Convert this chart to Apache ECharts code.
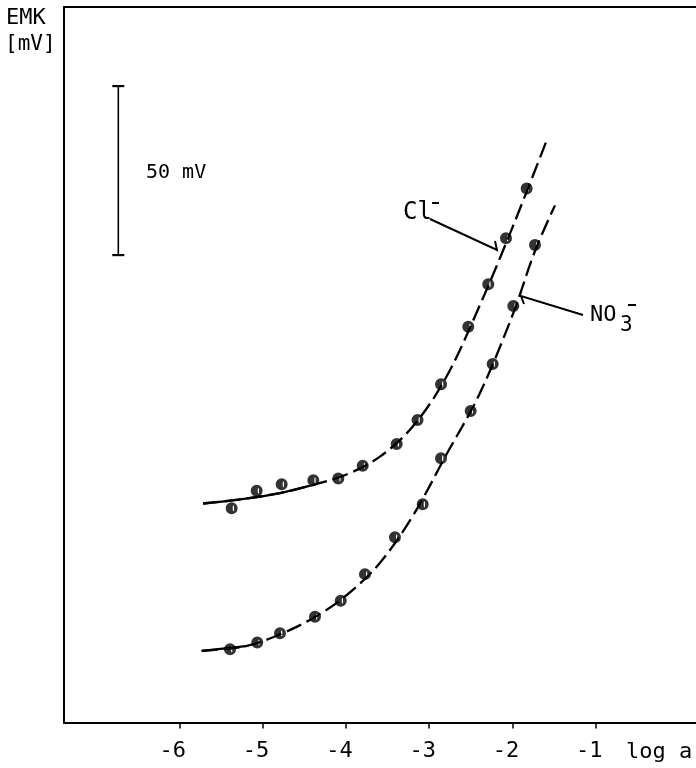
<!DOCTYPE html>
<html><head><meta charset="utf-8">
<script src="https://cdn.jsdelivr.net/npm/echarts@6/dist/echarts.min.js"></script>
<style>html,body{margin:0;padding:0;background:#fff}#c{width:696px;height:768px}</style>
</head><body><div id="c"></div>
<script>
// tick labels on the log a axis
const xTicks = [-6, -5, -4, -3, -2, -1];
// measured points (log a, EMK in mV relative to axis bottom)
const clLogA  = [-5.371, -5.071, -4.771, -4.391, -4.091, -3.798, -3.390, -3.140, -2.858, -2.531, -2.291, -2.078, -1.830];
const clEmk   = [63.4, 68.6, 70.5, 71.7, 72.2, 76.0, 82.4, 89.5, 100.1, 117.1, 129.7, 143.3, 158.0];
const no3LogA = [-5.391, -5.064, -4.791, -4.371, -4.062, -3.771, -3.411, -3.078, -2.858, -2.502, -2.238, -1.990, -1.730];
const no3Emk  = [21.7, 23.7, 26.4, 31.3, 36.0, 43.9, 54.8, 64.6, 78.2, 92.2, 106.1, 123.2, 141.3];
// hand-drawn fitted curves
const clCurveLogA  = [-5.715, -5.271, -4.791, -4.395, -4.0, -3.6, -3.2, -2.8, -2.4, -2.0, -1.598];
const clCurveEmk   = [64.8, 66.0, 67.9, 70.3, 73.3, 78.5, 87.5, 102.0, 123.0, 146.5, 171.7];
const no3CurveLogA = [-5.731, -5.2, -4.8, -4.4, -4.0, -3.6, -3.2, -2.8, -2.4, -2.0, -1.73, -1.49];
const no3CurveEmk  = [21.2, 22.6, 26.0, 30.8, 37.5, 47.0, 61.0, 79.0, 97.0, 120.5, 139.5, 153.0];
// 50 mV scale bar
const scaleBarLogA = [-6.732, -6.732];
const scaleBarEmk  = [138.3, 188.3];

const zip = (a, b) => a.map((v, i) => [v, b[i]]);
const FONT = 'DejaVu Sans Mono';
const xMin = -7.384, xMax = 0.203, yMin = 0, yMax = 211.7;
const dotPath = 'path://M10 0A10 10 0 1 1 10 20A10 10 0 1 1 10 0ZM12.8 5A1.1 5 0 1 0 12.8 15A1.1 5 0 1 0 12.8 5Z';

const chart = echarts.init(document.getElementById('c'), null, {renderer: 'canvas'});
const axisLine = {show: true, onZero: false, lineStyle: {color: '#000', width: 2}};
chart.setOption({
  animation: false,
  backgroundColor: '#fff',
  grid: {left: 64, right: 0, top: 7, bottom: 45.5},
  xAxis: [{
    type: 'value', min: xMin, max: xMax, position: 'bottom',
    axisLine: axisLine,
    axisTick: {show: true, customValues: xTicks, length: 6, lineStyle: {color: '#000', width: 1.5}},
    axisLabel: {show: true, customValues: xTicks, color: '#000', fontFamily: FONT, fontSize: 22,
      margin: 18, padding: [0, 13, 0, 0], formatter: v => '-' + Math.abs(v)},
    splitLine: {show: false}
  }, {
    type: 'value', min: xMin, max: xMax, position: 'top',
    axisLine: axisLine, axisTick: {show: false}, axisLabel: {show: false}, splitLine: {show: false}
  }],
  yAxis: {
    type: 'value', min: yMin, max: yMax, position: 'left',
    axisLine: axisLine, axisTick: {show: false}, axisLabel: {show: false}, splitLine: {show: false}
  },
  series: [
    {type: 'line', data: zip(clCurveLogA, clCurveEmk), smooth: 0.35, showSymbol: false, z: 2,
      lineStyle: {color: '#000', width: 2.3, type: [16, 6]}},
    {type: 'line', data: zip(clCurveLogA.slice(0, 4), clCurveEmk.slice(0, 4)), smooth: 0.35, showSymbol: false, z: 2,
      lineStyle: {color: '#000', width: 2.3}},
    {type: 'line', data: zip(no3CurveLogA, no3CurveEmk), smooth: 0.35, showSymbol: false, z: 2,
      lineStyle: {color: '#000', width: 2.3, type: [16, 6]}},
    {type: 'line', data: zip(no3CurveLogA.slice(0, 2), no3CurveEmk.slice(0, 2)), showSymbol: false, z: 2,
      lineStyle: {color: '#000', width: 2.3}},
    {type: 'scatter', data: zip(clLogA, clEmk), symbol: dotPath, symbolSize: 12, z: 5,
      itemStyle: {color: '#000'}},
    {type: 'scatter', data: zip(no3LogA, no3Emk), symbol: dotPath, symbolSize: 12, z: 5,
      itemStyle: {color: '#000'}},
    {type: 'line', data: zip(scaleBarLogA, scaleBarEmk), symbol: 'rect', symbolSize: [12, 2.2], showSymbol: true,
      itemStyle: {color: '#000'}, lineStyle: {color: '#000', width: 1.6}, z: 3}
  ],
  graphic: [
    {type: 'text', left: 6, top: 7, style: {text: 'EMK', font: '22px "DejaVu Sans Mono"', fill: '#000'}},
    {type: 'text', left: 5, top: 34, style: {text: '[mV]', font: '21px "DejaVu Sans Mono"', fill: '#000'}},
    {type: 'text', left: 146, top: 163, style: {text: '50 mV', font: '20px "DejaVu Sans Mono"', fill: '#000'}},
    {type: 'text', left: 626, top: 741, style: {text: 'log a', font: '22px "DejaVu Sans Mono"', fill: '#000'}},
    {type: 'text', left: 403, top: 201, style: {text: 'Cl', font: '24px "DejaVu Sans Mono"', fill: '#000'}},
    {type: 'line', shape: {x1: 432, y1: 203, x2: 439, y2: 203}, style: {stroke: '#000', lineWidth: 2}},
    {type: 'polyline', shape: {points: [[430, 219], [497, 250], [495, 241]]}, style: {stroke: '#000', lineWidth: 2, fill: null}},
    {type: 'text', left: 590, top: 304, style: {text: 'NO', font: '22px "DejaVu Sans Mono"', fill: '#000'}},
    {type: 'text', left: 620, top: 315, style: {text: '3', font: '21px "DejaVu Sans Mono"', fill: '#000'}},
    {type: 'line', shape: {x1: 628, y1: 305, x2: 636, y2: 305}, style: {stroke: '#000', lineWidth: 2}},
    {type: 'polyline', shape: {points: [[583, 315], [521, 296], [524, 304]]}, style: {stroke: '#000', lineWidth: 2, fill: null}}
  ]
});
</script></body></html>
